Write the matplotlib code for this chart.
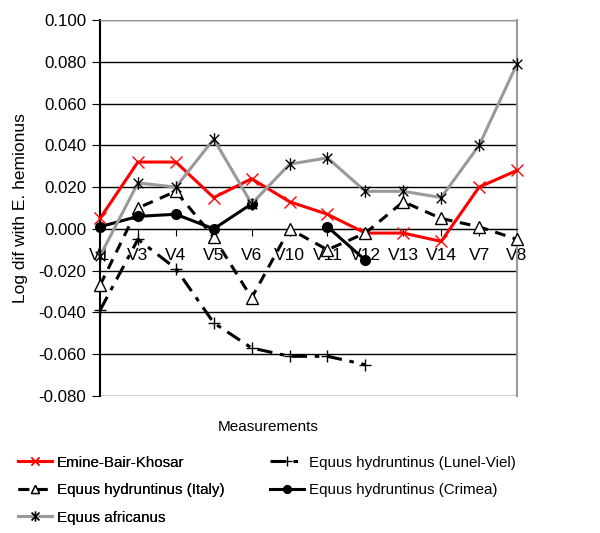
import matplotlib.pyplot as plt
import numpy as np
from matplotlib.path import Path

plt.rcParams['font.family'] = ['Liberation Sans', 'DejaVu Sans']

measurements = ['V1', 'V3', 'V4', 'V5', 'V6', 'V10', 'V11', 'V12', 'V13', 'V14', 'V7', 'V8']
nan = np.nan
emine = [0.005, 0.032, 0.032, 0.015, 0.024, 0.013, 0.007, -0.002, -0.002, -0.006, 0.020, 0.028]
lunel = [-0.039, -0.005, -0.019, -0.045, -0.057, -0.061, -0.061, -0.065, nan, nan, nan, nan]
italy = [-0.027, 0.010, 0.018, -0.004, -0.033, 0.000, -0.010, -0.002, 0.013, 0.005, 0.001, -0.005]
crimea = [0.001, 0.006, 0.007, 0.000, 0.012, nan, 0.001, -0.015, nan, nan, nan, nan]
africanus = [-0.013, 0.022, 0.020, 0.043, 0.012, 0.031, 0.034, 0.018, 0.018, 0.015, 0.040, 0.079]

# asterisk marker (x with a vertical bar)
star = Path([(-1, -1), (1, 1), (-1, 1), (1, -1), (0, -1.3), (0, 1.3)],
            [Path.MOVETO, Path.LINETO, Path.MOVETO, Path.LINETO, Path.MOVETO, Path.LINETO])

fig = plt.figure(figsize=(6, 5.33), dpi=100)
ax = fig.add_axes([0.1667, 0.257, 0.695, 0.7055])
x = np.arange(len(measurements))

l1, = ax.plot(x, emine, color='red', lw=2.2, marker='x', ms=8, mew=1, clip_on=False, zorder=3)
l2, = ax.plot(x, lunel, color='black', lw=2.2, ls=(0, (5, 2.5, 1.5, 2.5)), marker='+', ms=9,
              mew=1, clip_on=False, zorder=3)
l3, = ax.plot(x, italy, color='black', lw=2.2, ls=(0, (3.5, 2.5)), marker='^', ms=8, mew=1,
              mfc='white', mec='black', clip_on=False, zorder=3)
l4, = ax.plot(x, crimea, color='black', lw=2.2, marker='o', ms=7, clip_on=False, zorder=3)
l5, = ax.plot(x, africanus, color='#999999', lw=2.2, marker=star, ms=9, mew=1, mec='black',
              clip_on=False, zorder=3)

ax.set_xlim(0, len(measurements) - 1)
ax.set_ylim(-0.08, 0.1)
ax.set_yticks(np.arange(-0.08, 0.1001, 0.02))
ax.set_yticklabels(['{:.3f}'.format(v) for v in np.arange(-0.08, 0.1001, 0.02)])
ax.set_xticks(x)
ax.set_xticklabels(measurements)
ax.grid(axis='y', color='black', lw=1)
ax.spines['bottom'].set_position(('data', 0))
ax.spines['top'].set_color('#999999')
ax.spines['right'].set_color('#999999')
ax.spines['right'].set_linewidth(1.5)
ax.spines['left'].set_linewidth(1.5)
ax.tick_params(axis='y', direction='out', length=6, labelsize=12.2, pad=4)
ax.tick_params(axis='x', direction='out', length=5, labelsize=12.5, pad=9)

fig.text(0.035, 0.61, 'Log dif with E. hemionus', rotation=90, ha='center', va='center', fontsize=12.5)
fig.text(0.447, 0.199, 'Measurements', ha='center', va='center', fontsize=11)

leg_kw = dict(loc='upper left', frameon=False, fontsize=10.9, handlelength=2.25,
              handletextpad=0.33, labelspacing=0.89, borderaxespad=0, borderpad=0,
              markerscale=0.8)
leg1 = fig.legend([l1, l3, l5],
                  ['Emine-Bair-Khosar', 'Equus hydruntinus (Italy)', 'Equus africanus'],
                  bbox_to_anchor=(0.03, 0.145), **leg_kw)
fig.add_artist(leg1)
fig.legend([l2, l4], ['Equus hydruntinus (Lunel-Viel)', 'Equus hydruntinus (Crimea)'],
           bbox_to_anchor=(0.45, 0.145), **leg_kw)

fig.savefig('out.png', dpi=100)
